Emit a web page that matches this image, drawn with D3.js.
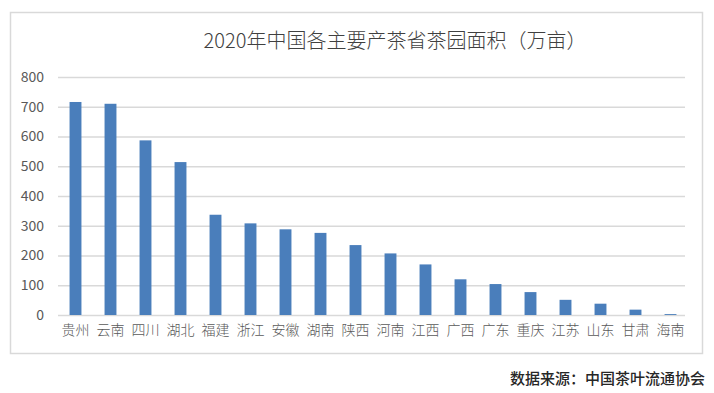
<!DOCTYPE html>
<html><head><meta charset="utf-8">
<script src="https://cdn.jsdelivr.net/npm/d3@7"></script>
<style>body{margin:0;background:#fff;}svg{display:block;}</style>
</head><body>
<script>
const categories = ["贵州","云南","四川","湖北","福建","浙江","安徽","湖南","陕西","河南","江西","广西","广东","重庆","江苏","山东","甘肃","海南"];
const values = [716, 710, 587, 514, 337, 308, 288, 276, 235, 207, 170, 120, 104, 77, 51, 38, 18, 3];
const yTicks = [0,100,200,300,400,500,600,700,800];
const title = "2020年中国各主要产茶省茶园面积（万亩）";
const source = "数据来源：中国茶叶流通协会";

const W = 714, H = 393;
const svg = d3.select("body").append("svg").attr("width", W).attr("height", H);
const font = "'Noto Sans CJK SC','Noto Sans',sans-serif";

svg.append("rect").attr("x",10.5).attr("y",12.5).attr("width",692).attr("height",341)
  .attr("fill","#fff").attr("stroke","#d9d9d9").attr("stroke-width",1.5);

const x = d3.scaleBand().domain(categories).range([58, 688]).paddingInner(0.66).paddingOuter(0.33);
const y = d3.scaleLinear().domain([0, 800]).range([315, 77]);

svg.append("text").attr("x",395).attr("y",48).attr("text-anchor","middle")
  .attr("font-family",font).attr("font-size",20).attr("font-weight",300).attr("fill","#404040").text(title);

const yAxis = svg.append("g").attr("transform","translate(58,0)")
  .call(d3.axisLeft(y).tickValues(yTicks).tickSize(-627).tickPadding(14));
yAxis.select(".domain").remove();
yAxis.selectAll(".tick line").attr("stroke","#d9d9d9").attr("stroke-width",1.5);
yAxis.selectAll(".tick text").attr("font-family",font).attr("font-size",14).attr("fill","#595959");

svg.append("g").selectAll("rect").data(values).join("rect")
  .attr("x",(d,i)=>x(categories[i])).attr("width",x.bandwidth())
  .attr("y",d=>y(d)).attr("height",d=>y(0)-y(d)).attr("fill","#4a7ebb");

const xAxis = svg.append("g").attr("transform","translate(0,315)")
  .call(d3.axisBottom(x).tickSize(0).tickPadding(10));
xAxis.select(".domain").remove();
xAxis.selectAll(".tick text").attr("font-family",font).attr("font-size",14).attr("font-weight",300).attr("fill","#595959");

svg.append("text").attr("x",705).attr("y",384).attr("text-anchor","end")
  .attr("font-family",font).attr("font-size",15).attr("font-weight",500).attr("fill","#262626").text(source);
</script>
</body></html>
